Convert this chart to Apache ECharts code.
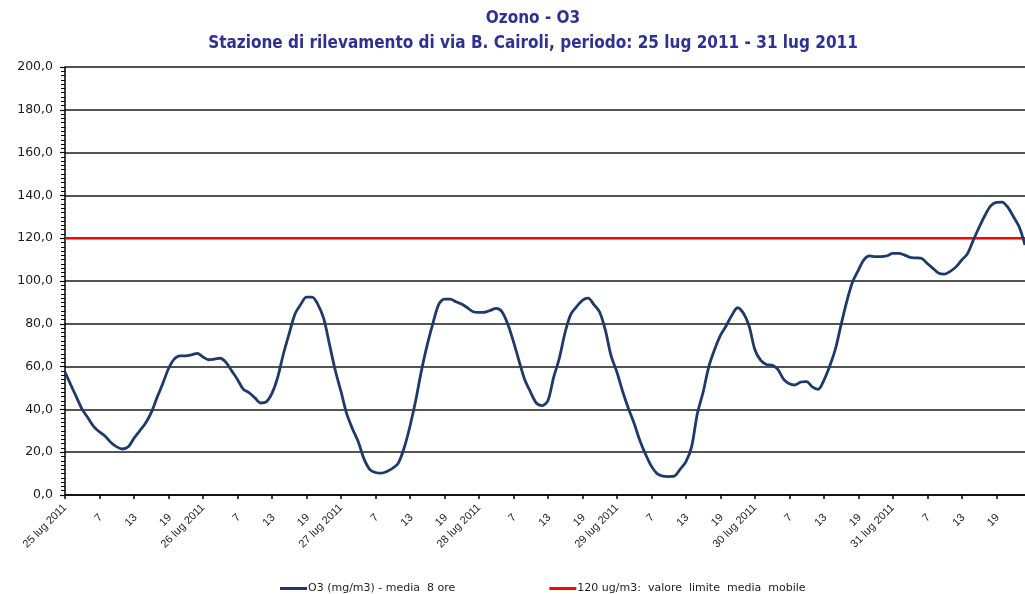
<!DOCTYPE html>
<html>
<head>
<meta charset="utf-8">
<script src="https://cdn.jsdelivr.net/npm/echarts@6/dist/echarts.min.js"></script>
<style>
html,body{margin:0;padding:0;background:#fff;}
#chart{width:1025px;height:594px;}
</style>
</head>
<body>
<div id="chart"></div>
<script>
// Day labels (first hour of each day) and hour labels shown every 6 hours
var dayLabels = ["25 lug 2011","26 lug 2011","27 lug 2011","28 lug 2011","29 lug 2011","30 lug 2011","31 lug 2011"];
var hoursPerDay = 24;

// O3 (mg/m3) - media 8 ore, hourly values 25-31 lug 2011
var o3Day1 = [57.5,51.5,45.7,40,36,32,29.5,27.5,24.5,22.5,21.5,22.5,26.5,30,33.5,38.5,45.5,52,59,63.5,65,65,65.5,66.2];
var o3Day2 = [64.5,63.2,63.5,63.9,62,58,54,49.5,47.8,45.5,43,43.5,47.5,55,66,75.5,84.5,89,92.5,92.5,89,82.5,70.5,58.4];
var o3Day3 = [48.5,38,31,25,17,12,10.5,10.2,11,12.5,15,22,32,44,58,70,80.2,89,91.5,91.5,90.3,89.2,87.5,85.6];
var o3Day4 = [85.3,85.4,86.3,87.2,85.7,80,71.8,62.5,53.7,48,43,41.8,44,55,64,76,84.5,88,91,92,89,85.5,77,65];
var o3Day5 = [57.5,48.5,40.5,33.5,25.5,19,13.5,10,8.8,8.6,8.8,12,15.5,22.5,38,48,60,68,74.5,79,84,87.5,85,79];
var o3Day6 = [68,63,61,60.7,58.7,54.2,52,51.4,52.8,53,50.5,49.4,53.5,60,68,79.5,90.5,99.5,105,110,111.7,111.4,111.4,111.8];
var o3Day7 = [112.9,112.9,112.2,111,110.8,110.6,108.2,105.9,103.6,103.2,104.5,106.6,109.8,112.8,119,125,130.5,135,136.7,136.9,134.5,130,125.2,116.8];

// Limit value
var limitValue = 120;

var o3 = [].concat(o3Day1,o3Day2,o3Day3,o3Day4,o3Day5,o3Day6,o3Day7);
var categories = [];
for (var d = 0; d < dayLabels.length; d++) {
  for (var h = 0; h < hoursPerDay; h++) {
    categories.push(h === 0 ? dayLabels[d] : String(h + 1));
  }
}
var limit = categories.map(function(){ return limitValue; });

var chart = echarts.init(document.getElementById('chart'), null, {renderer:'canvas'});
chart.setOption({
  animation:false,
  backgroundColor:'#ffffff',
  title:{
    text:'Ozono - O3\nStazione di rilevamento di via B. Cairoli, periodo: 25 lug 2011 - 31 lug 2011',
    left:528, textAlign:'center', top:1,
    textStyle:{fontFamily:'DejaVu Sans Condensed, DejaVu Sans', fontWeight:'bold', fontSize:17, color:'#2E3192', lineHeight:25}
  },
  legend:{
    left:275, top:578,
    itemGap:94, itemWidth:27, itemHeight:3, icon:'rect',
    textStyle:{fontFamily:'DejaVu Sans', fontSize:11, color:'#222', padding:[0,0,0,-4]},
    data:['O3 (mg/m3) - media  8 ore','120 ug/m3:  valore  limite  media  mobile']
  },
  grid:{left:65, right:0, top:67, bottom:99, containLabel:false},
  xAxis:{
    type:'category', data:categories, boundaryGap:false,
    axisLine:{lineStyle:{color:'#000', width:1.5}},
    axisTick:{show:true, interval:5, length:4, lineStyle:{color:'#000', width:1.5}},
    axisLabel:{interval:5, rotate:45, fontFamily:'Liberation Sans, Arial', fontSize:11, color:'#222', margin:11,
      formatter:function(v){ return v.indexOf('lug') >= 0 ? v : '{h|' + v + '}'; },
      rich:{h:{fontFamily:'Liberation Sans, Arial', fontSize:11, color:'#222', padding:[16,6,0,0]}}},
    splitLine:{show:false}
  },
  yAxis:{
    type:'value', min:0, max:200, interval:20,
    axisLine:{show:true, lineStyle:{color:'#000', width:1.5}},
    axisTick:{show:true, length:5, lineStyle:{color:'#000', width:1.2}},
    minorTick:{show:true, splitNumber:10, length:4, lineStyle:{color:'#000', width:1}},
    axisLabel:{fontFamily:'DejaVu Sans', fontSize:12.5, color:'#1a1a1a', margin:12,
      formatter:function(v){ return v.toFixed(1).replace('.',','); }},
    splitLine:{show:true, lineStyle:{color:'#1a1a1a', width:1.6}}
  },
  series:[
    {name:'O3 (mg/m3) - media  8 ore', type:'line', data:o3, symbol:'none', smooth:0.3,
     lineStyle:{color:'#1F3A68', width:2.8}, itemStyle:{color:'#1F3A68'}, z:3},
    {name:'120 ug/m3:  valore  limite  media  mobile', type:'line', data:limit, symbol:'none',
     lineStyle:{color:'#FF0000', width:2.5}, itemStyle:{color:'#FF0000'}, z:2}
  ]
});
</script>
</body>
</html>
